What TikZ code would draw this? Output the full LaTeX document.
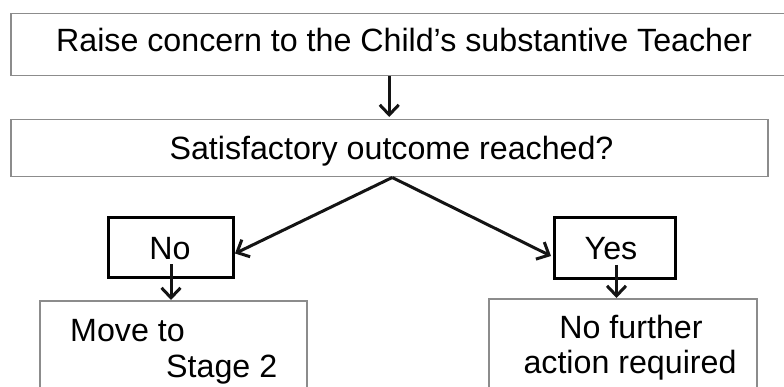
\documentclass[tikz,border=0pt]{standalone}
\usepackage{fontspec}
\setmainfont{Liberation Sans}
\usetikzlibrary{arrows.meta}
\begin{document}
\begin{tikzpicture}[x=1pt,y=-1pt,
  graybox/.style={draw=black!45, line width=1.5pt, fill=white, inner sep=0pt, anchor=north west},
  answerbox/.style={draw=black, line width=3pt, fill=white, inner sep=0pt, anchor=north west},
  label/.style={inner sep=0pt, font=\fontsize{32.2}{36}\selectfont, text=black},
  flow/.style={draw=black!92, line width=3pt, -{Straight Barb[length=10pt,width=19pt,line width=3pt]}}
]
\useasboundingbox (0,0) rectangle (784,387);
\clip (0,0) rectangle (784,387);
\fill[white] (0,0) rectangle (784,387);

% boxes
\node[graybox, minimum width=800pt, minimum height=62pt] (raise) at (10,13) {};
\node[graybox, minimum width=757pt, minimum height=57pt] (sat) at (10,119) {};
\node[answerbox, minimum width=125pt, minimum height=60pt] (no) at (107,216) {};
\node[answerbox, minimum width=121pt, minimum height=61pt] (yes) at (553,216) {};
\node[graybox, minimum width=267pt, minimum height=110pt] (move) at (39,300) {};
\node[graybox, minimum width=268pt, minimum height=110pt] (nfa) at (488,298) {};

% texts
\node[label, anchor=base] (traise) at (404,52) {Raise concern to the Child’s substantive Teacher};
\node[label, anchor=base] (tsat) at (391.5,160) {Satisfactory outcome reached?};
\node[label, anchor=base] (tno) at (170,260) {No};
\node[label, anchor=base] (tyes) at (611,260) {Yes};
\node[label, anchor=base west] (tmove) at (70,341) {Move to};
\node[label, anchor=base west] (tstage) at (166,377) {Stage 2};
\node[label, anchor=base] (tnof) at (631,338) {No further};
\node[label, anchor=base] (tact) at (630,373) {action required};

% connectors
\draw[flow] (sat.north |- raise.south) -- ([yshift=2pt]sat.north);
\draw[flow] ([xshift=3pt]sat.south) -- ([yshift=-6pt]no.east);
\draw[flow] ([xshift=3pt]sat.south) -- ([yshift=-8pt,xshift=-2pt]yes.west);
\draw[flow] ([yshift=-17pt]no.center) -- (no.center |- move.north);
\draw[flow] ([yshift=-17pt,xshift=1.5pt]yes.center) -- ([xshift=1.5pt]yes.center |- nfa.north);
\end{tikzpicture}
\end{document}
